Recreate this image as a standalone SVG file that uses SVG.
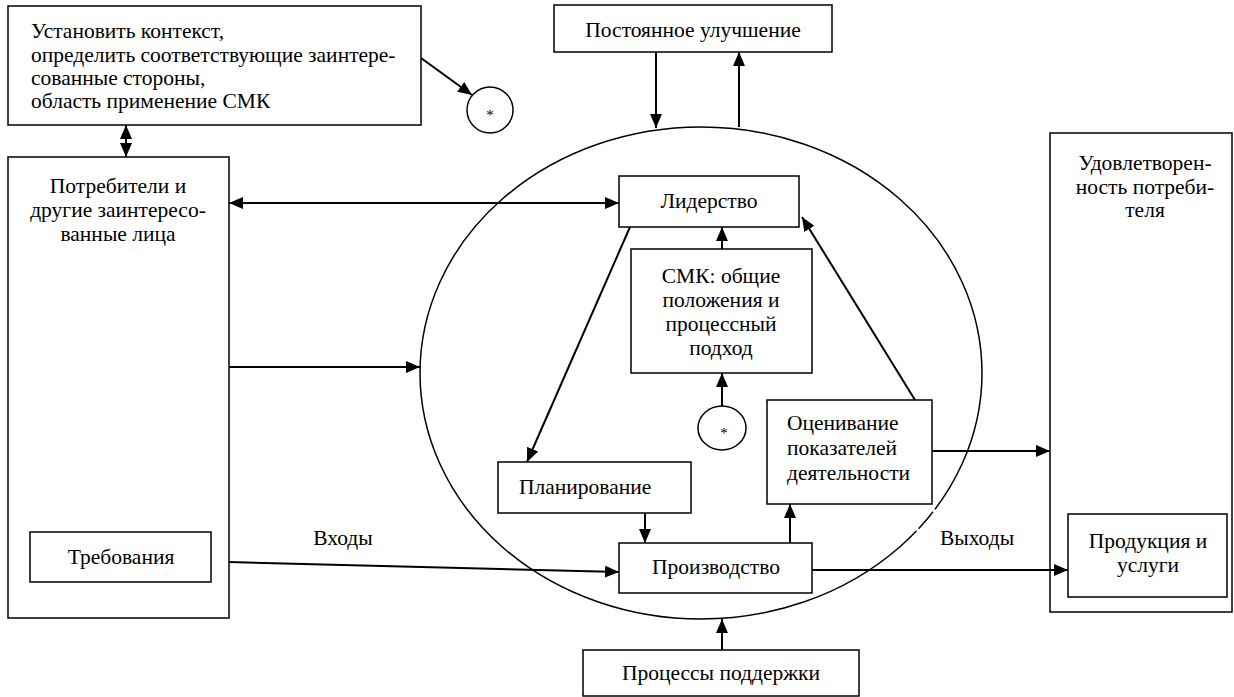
<svg xmlns="http://www.w3.org/2000/svg" width="1234" height="697" viewBox="0 0 1234 697">
<style>
.box{fill:#fff;stroke:#000;stroke-width:1.5}
text{font-family:'Liberation Serif','Times New Roman','DejaVu Serif',serif;font-size:21.5px;fill:#000}
.c{text-anchor:middle}
.star{font-size:15px}
.ln{fill:none;stroke:#000;stroke-width:2}
.gap{stroke:#fff;stroke-width:3}
</style>
<defs>
<marker id="ah" markerWidth="14" markerHeight="12" refX="14" refY="6" orient="auto" markerUnits="userSpaceOnUse">
<path d="M0,0 L14,6 L0,12 Z" fill="#000"/>
</marker>
<marker id="as" markerWidth="14" markerHeight="12" refX="0" refY="6" orient="auto" markerUnits="userSpaceOnUse">
<path d="M14,0 L0,6 L14,12 Z" fill="#000"/>
</marker>
</defs>
<rect width="1234" height="697" fill="#fff"/>
<g id="qms-ellipse"><ellipse cx="701" cy="373" rx="281" ry="246" fill="none" stroke="#000" stroke-width="1.5"/>
<line class="gap" x1="930" y1="508" x2="936" y2="512"/>
<line class="gap" x1="913" y1="526" x2="919" y2="531"/></g>
<g id="context"><rect class="box" x="8" y="6" width="413" height="119"/>
<text x="31" y="38">Установить контекст,</text>
<text x="31" y="62">определить соответствующие заинтере-</text>
<text x="31" y="85">сованные стороны,</text>
<text x="31" y="108">область применение СМК</text></g>
<g id="star1"><ellipse cx="490" cy="110" rx="23" ry="23" class="box"/><text class="c star" x="490" y="120">*</text></g>
<g id="consumers"><rect class="box" x="8" y="157" width="221" height="461"/>
<text class="c" x="118" y="193">Потребители и</text>
<text class="c" x="118" y="217">другие заинтересо-</text>
<text class="c" x="118" y="241">ванные лица</text></g>
<g id="requirements"><rect class="box" x="30" y="532" width="181" height="50"/><text class="c" x="121" y="564">Требования</text></g>
<g id="improvement"><rect class="box" x="554" y="5" width="278" height="47"/><text class="c" x="693" y="37">Постоянное улучшение</text></g>
<g id="leadership"><rect class="box" x="619" y="176" width="180" height="51"/><text class="c" x="709" y="208">Лидерство</text></g>
<g id="qms"><rect class="box" x="631" y="249" width="181" height="124"/>
<text class="c" x="721" y="283">СМК: общие</text>
<text class="c" x="721" y="307">положения и</text>
<text class="c" x="721" y="331">процессный</text>
<text class="c" x="721" y="355">подход</text></g>
<g id="star2"><ellipse cx="722" cy="428" rx="24" ry="22" class="box"/><text class="c star" x="724" y="438">*</text></g>
<g id="evaluation"><rect class="box" x="767" y="400" width="165" height="104"/>
<text x="787" y="430">Оценивание</text>
<text x="787" y="455">показателей</text>
<text x="787" y="480">деятельности</text></g>
<g id="planning"><rect class="box" x="498" y="462" width="193" height="51"/><text x="519" y="494">Планирование</text></g>
<g id="production"><rect class="box" x="619" y="543" width="193" height="50"/><text class="c" x="716" y="574">Производство</text></g>
<g id="support"><rect class="box" x="583" y="650" width="276" height="46"/><text class="c" x="721" y="680">Процессы поддержки</text></g>
<g id="satisfaction"><rect class="box" x="1050" y="133" width="182" height="479" fill="none"/>
<text class="c" x="1145" y="170">Удовлетворен-</text>
<text class="c" x="1145" y="194">ность потреби-</text>
<text class="c" x="1145" y="217">теля</text></g>
<g id="products"><rect class="box" x="1068" y="514" width="159" height="83"/>
<text class="c" x="1148" y="548">Продукция и</text>
<text class="c" x="1148" y="572">услуги</text></g>
<g id="labels">
<text class="c" x="343" y="545">Входы</text>
<text class="c" x="977" y="545">Выходы</text></g>
<g id="connectors">
<line class="ln" x1="421" y1="58" x2="472" y2="95" marker-end="url(#ah)"/>
<line class="ln" x1="126" y1="125" x2="126" y2="157" marker-start="url(#as)" marker-end="url(#ah)"/>
<line class="ln" x1="229" y1="203" x2="619" y2="203" marker-start="url(#as)" marker-end="url(#ah)"/>
<line class="ln" x1="229" y1="367" x2="420" y2="367" marker-end="url(#ah)"/>
<path class="ln" d="M229,562 L619,572" marker-end="url(#ah)"/>
<line class="ln" x1="656" y1="52" x2="656" y2="128" marker-end="url(#ah)"/>
<line class="ln" x1="739" y1="127" x2="739" y2="52" marker-end="url(#ah)"/>
<line class="ln" x1="722" y1="249" x2="722" y2="227" marker-end="url(#ah)"/>
<line class="ln" x1="722" y1="406" x2="722" y2="373" marker-end="url(#ah)"/>
<line class="ln" x1="630" y1="227" x2="527" y2="462" marker-end="url(#ah)"/>
<line class="ln" x1="915" y1="400" x2="802" y2="217" marker-end="url(#ah)"/>
<line class="ln" x1="932" y1="451" x2="1050" y2="451" marker-end="url(#ah)"/>
<line class="ln" x1="645" y1="513" x2="645" y2="543" marker-end="url(#ah)"/>
<line class="ln" x1="790" y1="543" x2="790" y2="504" marker-end="url(#ah)"/>
<line class="ln" x1="812" y1="570" x2="1068" y2="570" marker-end="url(#ah)"/>
<line class="ln" x1="722" y1="650" x2="722" y2="619" marker-end="url(#ah)"/>
</g>
</svg>
